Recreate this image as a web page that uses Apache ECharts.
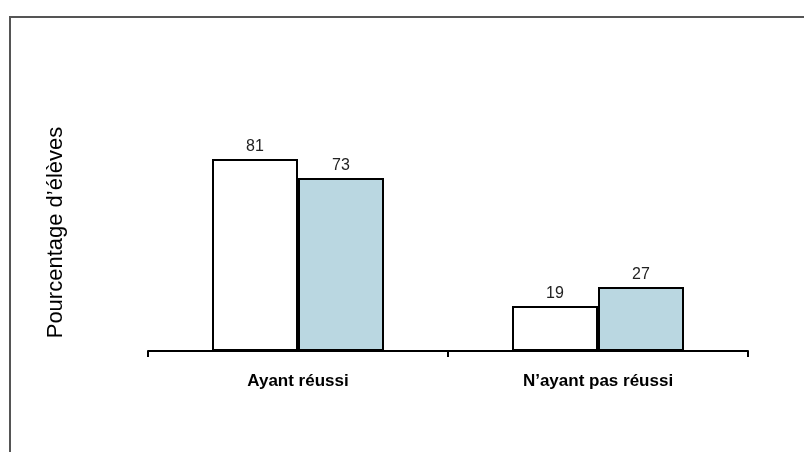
<!DOCTYPE html>
<html>
<head>
<meta charset="utf-8">
<script src="https://cdn.jsdelivr.net/npm/echarts@6/dist/echarts.min.js"></script>
<style>html,body{margin:0;padding:0;background:#fff}#c{width:804px;height:452px}</style>
</head>
<body>
<div id="c"></div>
<script>
var categories = ['Ayant réussi', 'N’ayant pas réussi'];
var seriesA = [81, 19];
var seriesB = [73, 27];
var yAxisName = 'Pourcentage d’élèves';

var chart = echarts.init(document.getElementById('c'), null, {renderer: 'canvas'});
var labelCfg = {show: true, position: 'top', distance: 4, color: '#222', fontSize: 16, fontFamily: 'Liberation Sans, Arial, sans-serif'};
chart.setOption({
  animation: false,
  graphic: [{
    type: 'rect', shape: {x: 10, y: 17, width: 820, height: 460},
    style: {fill: 'none', stroke: '#555', lineWidth: 2}, silent: true
  }],
  grid: {left: 148, right: 56, top: 114, bottom: 101},
  xAxis: {
    type: 'category', data: categories,
    axisLine: {lineStyle: {color: '#000', width: 2}},
    axisTick: {show: true, length: 6, lineStyle: {color: '#000', width: 2}},
    axisLabel: {color: '#000', fontSize: 17, fontWeight: 'bold', margin: 22, fontFamily: 'Liberation Sans, Arial, sans-serif'}
  },
  yAxis: {
    type: 'value', min: 0, max: 100,
    name: yAxisName, nameLocation: 'middle', nameGap: 81, nameRotate: 90,
    nameTextStyle: {color: '#000', fontSize: 22, fontFamily: 'Liberation Sans, Arial, sans-serif'},
    axisLine: {show: false}, axisTick: {show: false}, axisLabel: {show: false}, splitLine: {show: false}
  },
  series: [
    {type: 'bar', data: seriesA, barWidth: 86, barGap: '0%',
     itemStyle: {color: '#ffffff', borderColor: '#000', borderWidth: 2}, label: labelCfg},
    {type: 'bar', data: seriesB, barWidth: 86,
     itemStyle: {color: '#bad7e1', borderColor: '#000', borderWidth: 2}, label: labelCfg}
  ]
});
</script>
</body>
</html>
